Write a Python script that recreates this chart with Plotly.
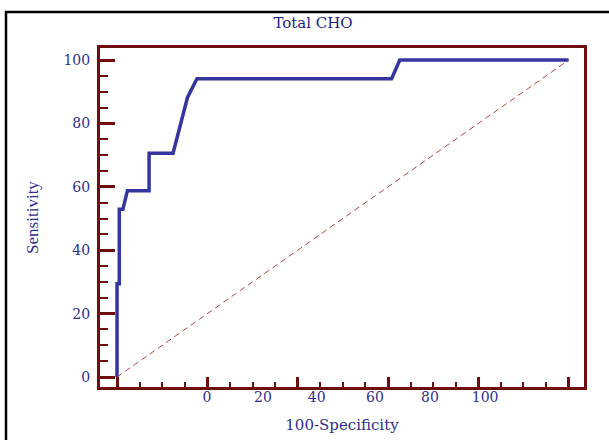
import plotly.graph_objects as go

# ROC curve points (100-Specificity, Sensitivity)
fpr = [0, 0, 0.5, 0.5, 1.3, 2.3, 7.1, 7.1, 12.4, 15.6, 17.7, 60.8, 62.6, 100]
tpr = [0, 29.4, 29.4, 52.9, 52.9, 58.8, 58.8, 70.6, 70.6, 88.2, 94.1, 94.1, 100, 100]

diag_x = [0, 100]
diag_y = [0, 100]

# x tick labels as they appear in the picture (placed at these x positions)
xlabel_pos = [19.9, 32.3, 44.2, 57.1, 69.3, 81.5]
xlabel_text = ["0", "20", "40", "60", "80", "100"]

y_ticks = [0, 20, 40, 60, 80, 100]

WIDE = "DejaVu Serif, serif"
NARROW = "Liberation Serif, Times New Roman, serif"
NAVY = "#2E2E8E"
FRAME = "#6E0E0E"

fig = go.Figure()
fig.add_trace(go.Scatter(x=diag_x, y=diag_y, mode="lines", xaxis="x2",
                         line=dict(color="#B04848", width=1, dash="6px,4px"),
                         hoverinfo="skip", showlegend=False))
fig.add_trace(go.Scatter(x=fpr, y=tpr, mode="lines",
                         line=dict(color="#3535A0", width=3.5),
                         showlegend=False))

xr = [-3.77, 103.4]
yr = [-3.15, 103.8]

fig.update_layout(
    width=609, height=440,
    margin=dict(l=100, r=25, t=48, b=53),
    paper_bgcolor="white", plot_bgcolor="white",
    title=dict(text="Total CHO", x=0.514, xanchor="center", y=1 - 23 / 440, yanchor="middle",
               font=dict(family=WIDE, size=15, color="#1E1E80")),
    xaxis=dict(range=xr, showgrid=False, zeroline=False, automargin=False,
               showline=True, linecolor=FRAME, linewidth=3, mirror=True,
               tickmode="array", tickvals=[0, 20, 40, 60, 80, 100],
               ticks="inside", ticklen=10, tickwidth=3, tickcolor=FRAME,
               showticklabels=False,
               minor=dict(dtick=5, tick0=0, ticks="inside", ticklen=5, tickwidth=2, tickcolor=FRAME),
               title=dict(text="100-Specificity", standoff=31,
                          font=dict(family=WIDE, size=15, color=NAVY))),
    xaxis2=dict(range=xr, overlaying="x", anchor="y", side="bottom", automargin=False,
                showgrid=False, zeroline=False, showline=False, ticks="",
                ticklabelstandoff=0,
                tickmode="array", tickvals=xlabel_pos, ticktext=xlabel_text,
                tickfont=dict(family=WIDE, size=14, color=NAVY)),
    yaxis=dict(range=yr, showgrid=False, zeroline=False, automargin=False,
               showline=True, linecolor=FRAME, linewidth=3, mirror=True,
               tickmode="array", tickvals=y_ticks,
               ticks="inside", ticklen=15, tickwidth=3, tickcolor=FRAME,
               minor=dict(dtick=5, tick0=0, ticks="inside", ticklen=8, tickwidth=2, tickcolor=FRAME),
               tickfont=dict(family=WIDE, size=14, color=NAVY),
               ticklabelstandoff=4,
               title=dict(text="Sensitivity", standoff=21,
                          font=dict(family=NARROW, size=17, color=NAVY))),
    shapes=[dict(type="rect", xref="paper", yref="paper",
                 x0=(6 - 100) / 484, x1=(640 - 100) / 484,
                 y0=(387 - 470) / 339, y1=(387 - 12) / 339,
                 line=dict(color="black", width=2.5), fillcolor="rgba(0,0,0,0)",
                 layer="below")],
)

fig.write_html("out.html")
